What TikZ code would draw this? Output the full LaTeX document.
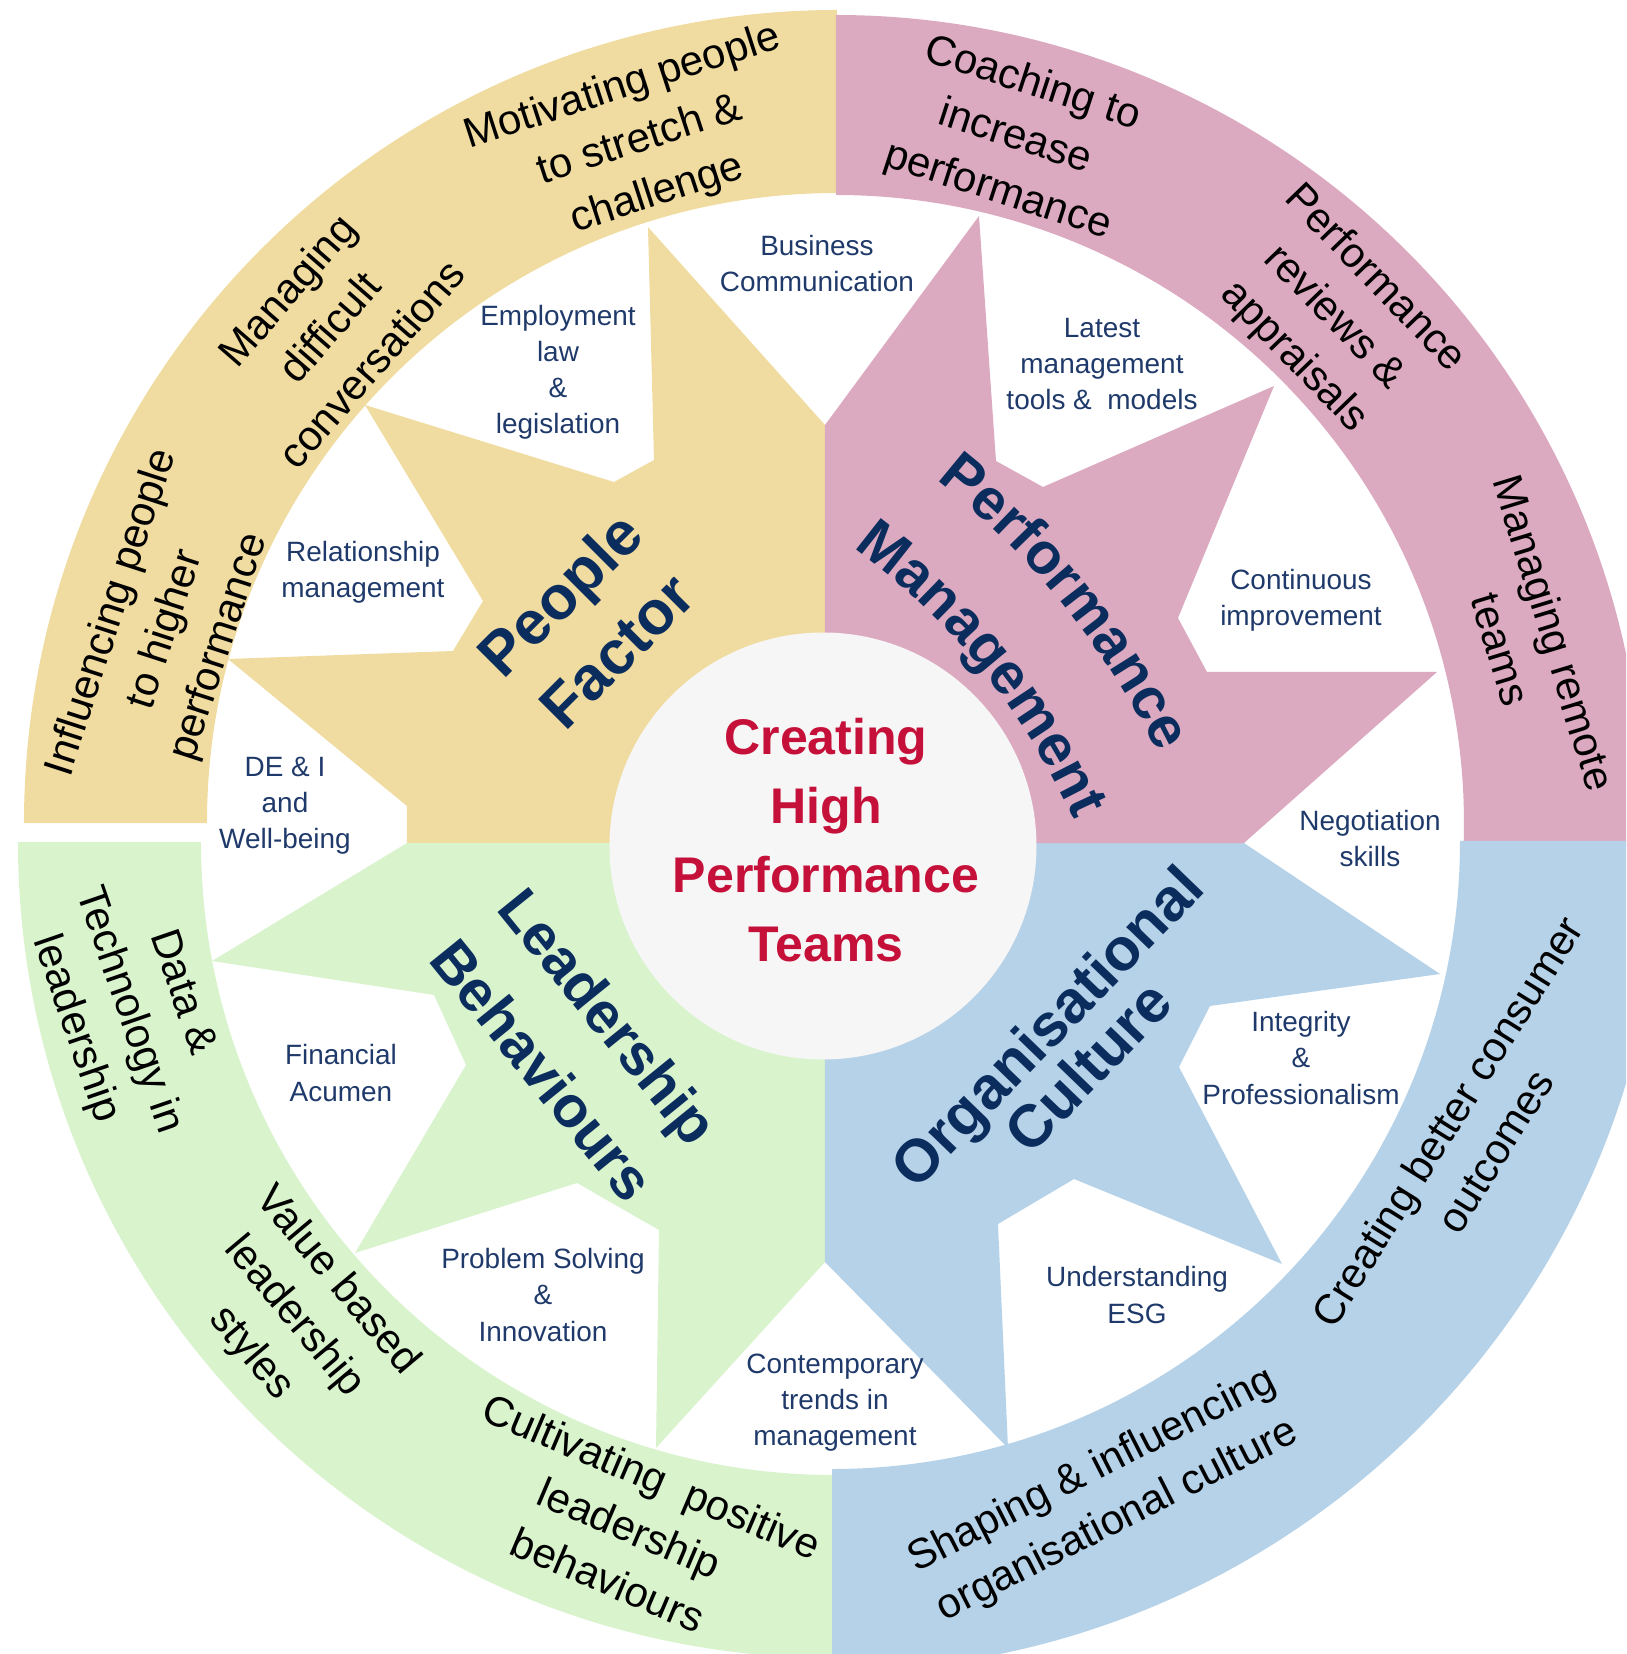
\documentclass[tikz,border=0pt]{standalone}
\usepackage{fontspec}
\setmainfont{Liberation Sans}
\usetikzlibrary{decorations.text}
\definecolor{pfyellow}{HTML}{F0DCA0}
\definecolor{pmpink}{HTML}{DCAAC0}
\definecolor{lbgreen}{HTML}{D9F3CD}
\definecolor{ocblue}{HTML}{B6D2E8}
\definecolor{hubgrey}{HTML}{F6F6F6}
\definecolor{titlered}{HTML}{C5103A}
\definecolor{headnavy}{HTML}{0B2D5E}
\definecolor{notenavy}{HTML}{1F3A6A}
\newcommand{\bandpart}[6]{\fill[#1] (#2) ++(#5:#4) arc (#5:#6:#4) -- ++({#6+180}:{#4-#3}) arc (#6:#5:#3) -- cycle;}
\newcommand{\headfont}{\fontsize{33}{33}\bfseries\selectfont}
\tikzset{
  notelbl/.style={align=center,text=notenavy,inner sep=0pt,font=\fontsize{15.9}{20.5}\selectfont},
  ringlbl/.style={align=center,inner sep=0pt,font=\fontsize{23.9}{32}\selectfont},
  headlbl/.style 2 args={align=center,text=headnavy,inner sep=0pt,font=\fontsize{#1}{#2}\bfseries\selectfont},
  hublbl/.style={align=center,text=titlered,inner sep=0pt,font=\fontsize{28.5}{39.3}\bfseries\selectfont}
}

\begin{document}
\begin{tikzpicture}[scale=2]
  \useasboundingbox (-8.25,-8.11) rectangle (8.01,8.43);
  \clip (-8.25,-8.11) rectangle (8.01,8.43);
  \coordinate (O)  at (0,0);
  \coordinate (YC) at (0.12,0.20);
  \coordinate (PC) at (0.11,0.20);
  \coordinate (GC) at (0.09,0.01);
  \coordinate (BC) at (0.07,0.02);
  \coordinate (CP) at (-3.75,-2.57);

  \bandpart{pfyellow}{YC}{6.30}{8.13}{90}{180}
  \bandpart{pmpink}{PC}{6.28}{8.08}{-1.7}{90}
  \bandpart{lbgreen}{GC}{6.33}{8.16}{180}{270}
  \bandpart{ocblue}{BC}{6.28}{8.30}{270}{360}

  \fill[pfyellow] (O) -- (0,4.18) -- (-1.77,6.16) -- (-1.71,3.83) -- (-2.11,3.61) -- (-4.60,4.38)
    -- (-3.42,2.42) -- (-3.72,1.92) -- (-5.97,1.84) -- (-4.18,0.37) -- (-4.18,0) -- cycle;
  \fill[lbgreen] (O) -- (-4.18,0) -- (-6.13,-1.18) -- (-3.91,-1.52) -- (-3.59,-2.22) -- (-4.70,-4.10)
    -- (-2.48,-3.40) -- (-1.66,-3.87) -- (-1.69,-6.05) -- (0,-4.19) -- cycle;
  \fill[ocblue] (O) -- (0,-4.19) -- (1.83,-6.05) -- (1.73,-3.81) -- (2.49,-3.36) -- (4.57,-4.21)
    -- (3.54,-2.24) -- (3.85,-1.63) -- (6.15,-1.31) -- (4.19,0) -- cycle;
  \fill[pmpink] (O) -- (4.19,0) -- (6.12,1.71) -- (3.82,1.71) -- (3.53,2.25) -- (4.49,4.57)
    -- (2.18,3.56) -- (1.71,3.82) -- (1.54,6.27) -- (0,4.18) -- cycle;
  \fill[hubgrey] (-0.02,-0.03) circle (2.135);

  \node[hublbl] (hub) at (0.01,0.025) {Creating\\High\\Performance\\Teams};

  \node[headlbl={35}{45.5},rotate=45]  (people) at (-2.37,2.21)  {People\\Factor};
  \node[headlbl={33}{48.4},rotate=-51] (lead)   at (-2.49,-2.00) {Leadership\\Behaviours};
  \node[headlbl={34}{30},rotate=46]    (orgcul) at (2.42,-2.03)  {Organisational\\Culture};
  \path[decorate,decoration={text along path,text align=center,text color=headnavy,
    text={|\headfont|Performance}}] (CP) ++(64:7.88) arc (64:14:7.88);
  \path[decorate,decoration={text along path,text align=center,text color=headnavy,
    text={|\headfont|Management}}] (CP) ++(64:6.84) arc (64:14:6.84);

  \node[notelbl] (buscom)  at (-0.08,5.79) {Business\\Communication};
  \node[notelbl] (emplaw)  at (-2.67,4.71) {Employment\\law\\\&\\legislation};
  \node[notelbl] (tools)   at (2.77,4.79)  {Latest\\management\\tools \& \ models};
  \node[notelbl] (relman)  at (-4.62,2.71) {Relationship\\management};
  \node[notelbl] (contimp) at (4.76,2.43)  {Continuous\\improvement};
  \node[notelbl] (dei)     at (-5.40,0.37) {DE \& I\\and\\Well-being};
  \node[notelbl] (negot)   at (5.45,0.04)  {Negotiation\\skills};
  \node[notelbl] (finac)   at (-4.84,-2.30) {Financial\\Acumen};
  \node[notelbl] (integ)   at (4.76,-2.15) {Integrity\\\&\\Professionalism};
  \node[notelbl] (probsol) at (-2.82,-4.52) {Problem Solving\\\&\\Innovation};
  \node[notelbl] (esg)     at (3.12,-4.52) {Understanding\\ESG};
  \node[notelbl] (trends)  at (0.10,-5.60) {Contemporary\\trends in\\management};

  \node[ringlbl,rotate=18]  (motiv)    at (-1.85,7.02)  {Motivating people\\to stretch \&\\challenge};
  \node[ringlbl,rotate=49]  (difconv)  at (-4.96,5.16)  {Managing\\difficult\\conversations};
  \node[ringlbl,rotate=72]  (influ)    at (-6.59,2.13)  {Influencing people\\to higher\\performance};
  \node[ringlbl,rotate=-18] (coach)    at (1.90,7.05)   {Coaching to\\increase\\performance};
  \node[ringlbl,rotate=-46] (review)   at (5.09,5.25)   {Performance\\reviews \&\\appraisals};
  \node[ringlbl,rotate=-73] (remote)   at (7.03,2.02)   {Managing remote\\teams};
  \node[ringlbl,rotate=-71] (datatech) at (-6.97,-1.68) {Data \&\\Technology in\\leadership};
  \node[ringlbl,rotate=-50] (valueb)   at (-5.31,-4.74) {Value based\\leadership\\styles};
  \node[ringlbl,rotate=-23] (cultiv)   at (-1.95,-6.85) {Cultivating \ positive\\leadership\\behaviours};
  \node[ringlbl,rotate=27]  (shaping)  at (2.80,-6.53)  {Shaping \& influencing\\organisational culture};
  \node[ringlbl,rotate=58]  (consumer) at (6.46,-2.93)  {Creating better consumer\\outcomes};
\end{tikzpicture}
\end{document}
